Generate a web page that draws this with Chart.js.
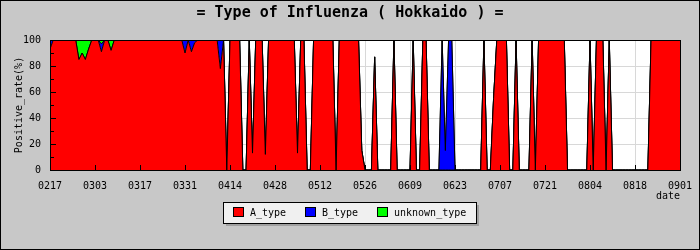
<!DOCTYPE html>
<html><head><meta charset="utf-8">
<script src="https://cdn.jsdelivr.net/npm/chart.js@4.4.1/dist/chart.umd.min.js"></script>
<style>html,body{margin:0;padding:0;background:#c8c8c8}canvas{display:block}</style>
</head><body>
<canvas id="c" width="700" height="250" style="width:700px;height:250px"></canvas>
<script>
// x tick labels (one every 14 days, day index 0 = 0217, 196 = 0901)
const tickLabels = ["0217","0303","0317","0331","0414","0428","0512","0526","0609","0623","0707","0721","0804","0818","0901"];
const seriesNames = ["A_type","B_type","unknown_type"];
const seriesColors = ["#ff0000","#0000ff","#00ff00"];
const chartTitle = "= Type of Influenza ( Hokkaido ) =";
const yTitle = "Positive_rate(%)";
const xTitle = "date";

// daily positive rate (%) per type, day 0 .. 196
const aType = [
 93,100,100,100,100,100,100,100,100,85,
 90,85,93,100,100,100,91,100,100,92,
 100,100,100,100,100,100,100,100,100,100,
 100,100,100,100,100,100,100,100,100,100,
 100,100,90,100,91,98,100,100,100,100,
 100,100,100,78,100,0,100,100,100,100,
 0,0,100,13,100,100,100,12,100,100,
 100,100,100,100,100,100,100,13,100,100,
 0,0,100,100,100,100,100,100,100,0,
 100,100,100,100,100,100,100,15,0,0,
 0,87,0,0,0,0,0,100,0,0,
 0,0,0,100,0,0,100,100,0,0,
 0,0,0,0,0,0,0,0,0,0,
 0,0,0,0,0,100,0,0,55,100,
 100,100,100,0,0,100,0,0,0,0,
 100,0,100,100,100,100,100,100,100,100,
 100,0,0,0,0,0,0,0,100,0,
 100,100,100,0,100,0,0,0,0,0,
 0,0,0,0,0,0,0,100,100,100,
 100,100,100,100,100,100,100
];
const bType = [
 7,0,0,0,0,0,0,0,0,0,
 0,0,0,0,0,0,6,0,0,0,
 0,0,0,0,0,0,0,0,0,0,
 0,0,0,0,0,0,0,0,0,0,
 0,0,10,0,9,2,0,0,0,0,
 0,0,0,22,0,0,0,0,0,0,
 0,0,0,0,0,0,0,0,0,0,
 0,0,0,0,0,0,0,0,0,0,
 0,0,0,0,0,0,0,0,0,0,
 0,0,0,0,0,0,0,0,0,0,
 0,0,0,0,0,0,0,0,0,0,
 0,0,0,0,0,0,0,0,0,0,
 0,0,100,15,100,100,0,0,0,0,
 0,0,0,0,0,0,0,0,0,0,
 0,0,0,0,0,0,0,0,0,0,
 0,0,0,0,0,0,0,0,0,0,
 0,0,0,0,0,0,0,0,0,0,
 0,0,0,0,0,0,0,0,0,0,
 0,0,0,0,0,0,0,0,0,0,
 0,0,0,0,0,0,0
];
const unknownType = [
 0,0,0,0,0,0,0,0,0,15,
 10,15,7,0,0,0,3,0,0,8,
 0,0,0,0,0,0,0,0,0,0,
 0,0,0,0,0,0,0,0,0,0,
 0,0,0,0,0,0,0,0,0,0,
 0,0,0,0,0,0,0,0,0,0,
 0,0,0,0,0,0,0,0,0,0,
 0,0,0,0,0,0,0,0,0,0,
 0,0,0,0,0,0,0,0,0,0,
 0,0,0,0,0,0,0,0,0,0,
 0,0,0,0,0,0,0,0,0,0,
 0,0,0,0,0,0,0,0,0,0,
 0,0,0,0,0,0,0,0,0,0,
 0,0,0,0,0,0,0,0,0,0,
 0,0,0,0,0,0,0,0,0,0,
 0,0,0,0,0,0,0,0,0,0,
 0,0,0,0,0,0,0,0,0,0,
 0,0,0,0,0,0,0,0,0,0,
 0,0,0,0,0,0,0,0,0,0,
 0,0,0,0,0,0,0
];

const FONT = "'DejaVu Sans Mono','Liberation Mono',monospace";
const series = [aType, bType, unknownType];

const decor = {
  id: 'decor',
  beforeDraw(chart) {
    const {ctx, chartArea: a} = chart;
    ctx.save();
    ctx.fillStyle = '#c8c8c8';
    ctx.fillRect(0, 0, chart.width, chart.height);
    ctx.fillStyle = '#ffffff';
    ctx.fillRect(a.left, a.top, a.right - a.left, a.bottom - a.top);
    ctx.restore();
  },
  afterDatasetsDraw(chart) {
    const {ctx, chartArea: a, scales: {x, y}} = chart;
    ctx.save();
    ctx.strokeStyle = '#000';
    ctx.lineWidth = 1;
    ctx.beginPath();
    x.ticks.forEach(t => {
      const px = Math.round(x.getPixelForValue(t.value)) + 0.5;
      ctx.moveTo(px, a.bottom);
      ctx.lineTo(px, a.bottom - 5);
    });
    for (let v = 10; v < 100; v += 10) {
      const py = Math.round(y.getPixelForValue(v)) + 0.5;
      ctx.moveTo(a.left, py);
      ctx.lineTo(a.left + (v % 20 === 0 ? 6 : 4), py);
    }
    ctx.stroke();
    ctx.strokeRect(a.left + 0.5, a.top + 0.5, a.right - a.left, a.bottom - a.top);
    ctx.restore();
  },
  afterDraw(chart) {
    const {ctx, chartArea: a} = chart;
    ctx.save();
    ctx.fillStyle = '#000';
    // title
    ctx.font = "bold 15px " + FONT;
    ctx.textAlign = 'center';
    ctx.textBaseline = 'middle';
    ctx.fillText(chartTitle, 350, 13);
    // x title
    ctx.font = "10px " + FONT;
    ctx.textAlign = 'right';
    ctx.fillText(xTitle, a.right, 196);
    // y title
    ctx.save();
    ctx.translate(19, 105);
    ctx.rotate(-Math.PI / 2);
    ctx.textAlign = 'center';
    ctx.fillText(yTitle, 0, 0);
    ctx.restore();
    // legend
    const lx = 223, ly = 202, lw = 253, lh = 21;
    ctx.fillStyle = '#a0a0a0';
    ctx.fillRect(lx + 3, ly + 3, lw, lh);
    ctx.fillStyle = '#f0f0f0';
    ctx.fillRect(lx, ly, lw, lh);
    ctx.strokeStyle = '#000';
    ctx.lineWidth = 1;
    ctx.strokeRect(lx + 0.5, ly + 0.5, lw, lh);
    const itemX = [233, 305, 377];
    chart.data.datasets.forEach((ds, i) => {
      const sx = itemX[i];
      ctx.fillStyle = ds.backgroundColor;
      ctx.fillRect(sx, 207, 11, 10);
      ctx.strokeRect(sx + 0.5, 207.5, 10, 9);
      ctx.fillStyle = '#000';
      ctx.textAlign = 'left';
      ctx.textBaseline = 'middle';
      ctx.fillText(ds.label, sx + 17, 213);
    });
    // outer border
    ctx.strokeStyle = '#000';
    ctx.strokeRect(0.5, 0.5, chart.width - 1, chart.height - 1);
    ctx.restore();
  }
};

new Chart(document.getElementById('c'), {
  type: 'line',
  data: {
    datasets: series.map((arr, i) => ({
      label: seriesNames[i],
      data: arr.map((v, d) => ({x: d, y: v})),
      backgroundColor: seriesColors[i],
      borderColor: '#000000',
      borderWidth: 1,
      pointRadius: 0,
      tension: 0,
      fill: i === 0 ? 'origin' : '-1'
    }))
  },
  options: {
    responsive: false,
    animation: false,
    devicePixelRatio: 1,
    layout: {padding: {left: 0, right: 20, top: 40, bottom: 0}},
    plugins: {legend: {display: false}, title: {display: false}, tooltip: {enabled: false}},
    scales: {
      x: {
        type: 'linear', min: 0, max: tickLabels.length * 14 - 14,
        grid: {color: '#d8d8d8', drawTicks: false},
        border: {display: false},
        ticks: {
          stepSize: 14, autoSkip: false, maxRotation: 0, padding: 10,
          color: '#000', font: {family: FONT, size: 10},
          callback: v => tickLabels[Math.round(v / 14)]
        },
        afterFit: s => { s.height = 80; s.paddingLeft = 0; s.paddingRight = 0; }
      },
      y: {
        stacked: true, min: 0, max: 100,
        grid: {color: '#d8d8d8', drawTicks: false},
        border: {display: false},
        ticks: {stepSize: 20, padding: 9, color: '#000', font: {family: FONT, size: 10}},
        afterFit: s => { s.width = 50; }
      }
    }
  },
  plugins: [decor]
});
</script>
</body></html>
